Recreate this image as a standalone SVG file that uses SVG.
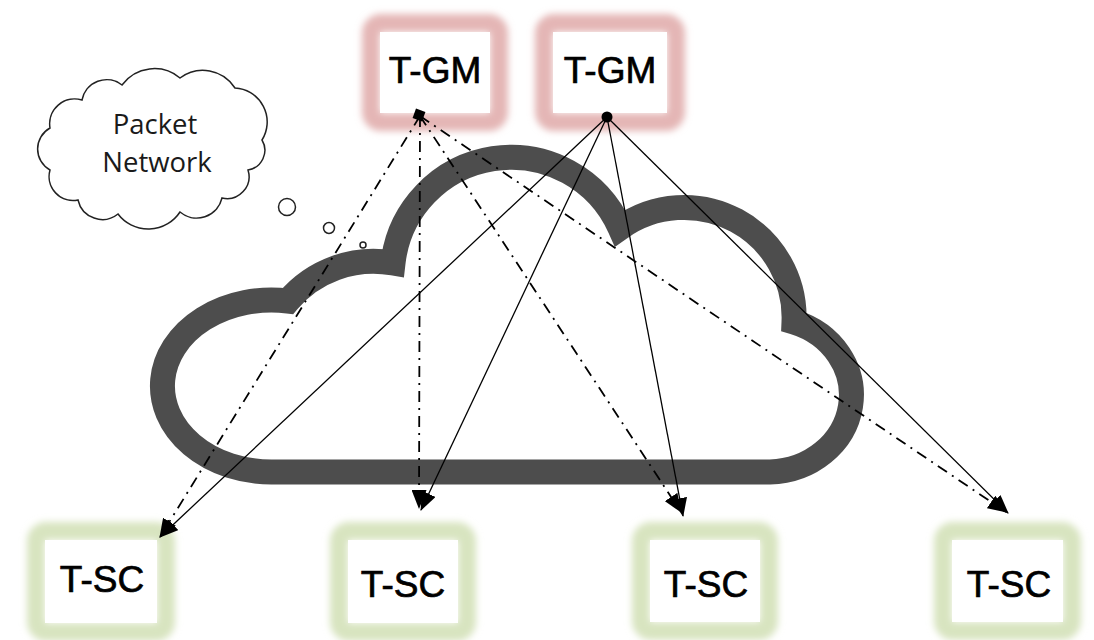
<svg xmlns="http://www.w3.org/2000/svg" width="1094" height="640" viewBox="0 0 1094 640">
  <defs>
    <filter id="blur" x="-30%" y="-30%" width="160%" height="160%">
      <feGaussianBlur stdDeviation="3.5"/>
    </filter>
    <marker id="arrow" markerUnits="userSpaceOnUse" markerWidth="19" markerHeight="15" refX="18" refY="7.5" orient="auto">
      <path d="M0,0 L19,7.5 L0,15 Z" fill="#000"/>
    </marker>
    <style>
      .glow-r { fill: none; stroke: #e4b6b5; stroke-width: 18; filter: url(#blur); }
      .glow-g { fill: none; stroke: #d8e4c0; stroke-width: 18; filter: url(#blur); }
      .box { fill: #ffffff; stroke: none; }
      .lbl { font-family: "Liberation Sans", Arial, sans-serif; font-size: 37px; fill: #000; stroke: #000; stroke-width: 0.7; text-anchor: middle; }
      .solid { fill: none; stroke: #000; stroke-width: 1.3; marker-end: url(#arrow); }
      .dashdot { fill: none; stroke: #000; stroke-width: 1.8; stroke-dasharray: 11 6 2 6; marker-end: url(#arrow); }
      .bubble { fill: #fff; stroke: #222; stroke-width: 1.5; }
      .btxt { font-family: "Open Sans", "Noto Sans", sans-serif; font-size: 27.5px; fill: #1a1a1a; text-anchor: middle; }
    </style>
  </defs>
  <rect width="1094" height="640" fill="#fff"/>

  <g id="packet-network-cloud">
    <path d="M 272 472 A 109 86 0 1 1 288 301 A 112 112 0 0 1 393 263 A 119 119 0 0 1 620 228 A 110 110 0 0 1 794 322 A 84 77 0 0 1 770 472 Z" fill="none" stroke="#4d4d4d" stroke-width="25"/>
  </g>

  <g id="thought-bubble">
    <path class="bubble" d="M 50 170 A 24 24 0 0 1 50 128 A 25 25 0 0 1 82 100 A 25 25 0 0 1 122 85 A 40 40 0 0 1 180 78 A 38 38 0 0 1 235 88 A 34 34 0 0 1 262 140 A 20 20 0 0 1 248 170 A 22 22 0 0 1 222 198 A 26 26 0 0 1 180 212 A 38 38 0 0 1 118 214 A 25 25 0 0 1 78 200 A 24 24 0 0 1 50 170 Z"/>
    <circle class="bubble" cx="287" cy="207" r="8.5"/>
    <circle class="bubble" cx="329" cy="228" r="5.5"/>
    <circle class="bubble" cx="363" cy="245" r="3"/>
    <text class="btxt" x="155" y="134">Packet</text>
    <text class="btxt" x="157" y="172">Network</text>
  </g>

  <g id="tgm1">
    <rect class="glow-r" x="371" y="23" width="128" height="99" rx="10"/>
    <rect class="box" x="380" y="32" width="110" height="81"/>
    <text class="lbl" x="435" y="83">T-GM</text>
  </g>
  <g id="tgm2">
    <rect class="glow-r" x="544" y="23" width="132" height="99" rx="10"/>
    <rect class="box" x="553" y="32" width="114" height="81"/>
    <text class="lbl" x="610" y="83">T-GM</text>
  </g>

  <g id="tsc1">
    <rect class="glow-g" x="36" y="531" width="130" height="101" rx="10"/>
    <rect class="box" x="45" y="540" width="112" height="83"/>
    <text class="lbl" x="102" y="592">T-SC</text>
  </g>
  <g id="tsc2">
    <rect class="glow-g" x="339" y="531" width="128" height="101" rx="10"/>
    <rect class="box" x="348" y="540" width="110" height="83"/>
    <text class="lbl" x="403" y="597">T-SC</text>
  </g>
  <g id="tsc3">
    <rect class="glow-g" x="641" y="531" width="128" height="100" rx="10"/>
    <rect class="box" x="650" y="540" width="110" height="82"/>
    <text class="lbl" x="706" y="597">T-SC</text>
  </g>
  <g id="tsc4">
    <rect class="glow-g" x="943" y="531" width="129" height="100" rx="10"/>
    <rect class="box" x="952" y="540" width="111" height="82"/>
    <text class="lbl" x="1009" y="597">T-SC</text>
  </g>

  <g id="connectors">
    <line class="dashdot" x1="420" y1="116" x2="160" y2="537"/>
    <line class="dashdot" x1="420" y1="116" x2="419" y2="508"/>
    <line class="dashdot" x1="420" y1="116" x2="681" y2="512"/>
    <line class="dashdot" x1="420" y1="116" x2="1006" y2="512"/>
    <line class="solid" x1="607" y1="117" x2="160" y2="537"/>
    <line class="solid" x1="607" y1="117" x2="421" y2="510"/>
    <line class="solid" x1="607" y1="117" x2="683" y2="516"/>
    <line class="solid" x1="607" y1="117" x2="1008" y2="513"/>
    <rect x="414" y="110" width="10" height="10" transform="rotate(20 419 115)" fill="#000"/>
    <circle cx="607" cy="117" r="5.5" fill="#000"/>
  </g>
</svg>
